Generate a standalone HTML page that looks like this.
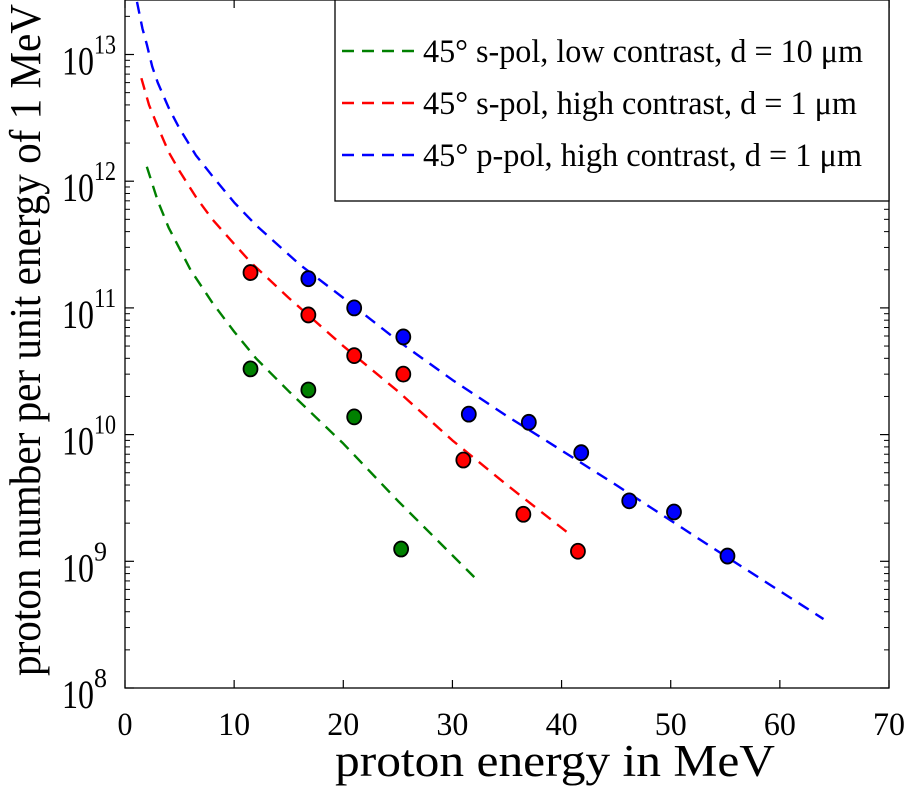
<!DOCTYPE html>
<html><head><meta charset="utf-8"><style>
body{margin:0;background:#fff;}
svg text{font-family:"Liberation Serif",serif;fill:#000;}
</style></head><body>
<svg id="chart" width="909" height="802" xmlns="http://www.w3.org/2000/svg"></svg>
<script>
const xTicks=[0,10,20,30,40,50,60,70];
const yDecades=[8,9,10,11,12,13];
const greenPtsX=[11.5,16.8,21,25.3];
const greenPtsY=[3.3e10,2.25e10,1.38e10,1.25e9];
const redPtsX=[11.5,16.8,21,25.5,31,36.5,41.5];
const redPtsY=[1.9e11,8.8e10,4.2e10,3e10,6.3e9,2.35e9,1.2e9];
const bluePtsX=[16.8,21,25.5,31.5,37,41.8,46.2,50.3,55.2];
const bluePtsY=[1.7e11,1e11,5.9e10,1.45e10,1.25e10,7.2e9,3e9,2.45e9,1.1e9];
const greenFitX=[2,3,4,6,8,10,12,15,20,25,32];
const greenFitY=[1.3e12,7e11,4.3e11,2e11,1.1e11,6.5e10,4e10,2.2e10,8.5e9,3e9,7.5e8];
const redFitX=[1.5,2.2,3,4,5,6.5,8,10,11.5,15,20,25,30,35,40.5];
const redFitY=[6.5e12,4e12,2.7e12,1.7e12,1.2e12,7.5e11,5e11,3.2e11,2.3e11,1.2e11,5e10,2.2e10,9e9,4e9,1.7e9];
const blueFitX=[1.1,1.6,2,2.5,3,4,5,6.5,8,10,12,16,20,25,30,35,40,45,50,55,64];
const blueFitY=[2.6e13,1.6e13,1.2e13,8e12,6e12,3.8e12,2.6e12,1.6e12,1.1e12,6.8e11,4.5e11,2.2e11,1.2e11,5.5e10,2.7e10,1.4e10,7.5e9,4e9,2.1e9,1.1e9,3.5e8];
const legendLabels=["45° s-pol, low contrast, d = 10 μm","45° s-pol, high contrast, d = 1 μm","45° p-pol, high contrast, d = 1 μm"];
const legendWidths=[440,434,439];

const L=125,R=889,T=0,B=688;
const X=v=>L+(v-0)/(70-0)*(R-L);
const Y=v=>B-(Math.log10(v)-8)*126.7;
const svg=document.getElementById('chart');
const NS='http://www.w3.org/2000/svg';
function mk(tag,attrs,parent){const e=document.createElementNS(NS,tag);for(const k in attrs)e.setAttribute(k,attrs[k]);(parent||svg).appendChild(e);return e;}

function curve(xs,ys,color,name){
  const p=mk('polyline',{points:xs.map((x,i)=>X(x)+','+Y(ys[i])).join(' '),fill:'none',stroke:color,'stroke-width':2.4,'stroke-dasharray':'12 8','stroke-linejoin':'round'});
  
  
}
curve(greenFitX,greenFitY,'#008000','green-fit-line');
curve(redFitX,redFitY,'#ff0000','red-fit-line');
curve(blueFitX,blueFitY,'#0000ff','blue-fit-line');
function pts(xs,ys,color,name){
  xs.forEach((x,i)=>{
    const c=mk('ellipse',{cx:X(x),cy:Y(ys[i]),rx:7,ry:7.5,fill:color,stroke:'#000','stroke-width':1.8});
    
    
  });
}
pts(greenPtsX,greenPtsY,'#008000','green-point');
pts(redPtsX,redPtsY,'#ff0000','red-point');
pts(bluePtsX,bluePtsY,'#0000ff','blue-point');

const fr=mk('rect',{x:L,y:T,width:R-L,height:B-T,fill:'none',stroke:'#000','stroke-width':1.3});


xTicks.forEach(t=>{
  mk('line',{x1:X(t),x2:X(t),y1:B,y2:B-8,stroke:'#000','stroke-width':1.2});
  mk('line',{x1:X(t),x2:X(t),y1:T,y2:T+8,stroke:'#000','stroke-width':1.2});
  const tx=mk('text',{x:X(t),y:735,'font-size':33,'text-anchor':'middle',textLength:t===0?15:32,lengthAdjust:'spacingAndGlyphs'});tx.textContent=t;
  
  
});
yDecades.forEach(d=>{
  const y=Y(Math.pow(10,d));
  mk('line',{x1:L,x2:L+9,y1:y,y2:y,stroke:'#000','stroke-width':1.2});
  mk('line',{x1:R,x2:R-9,y1:y,y2:y,stroke:'#000','stroke-width':1.2});
  for(let m=2;m<10;m++){const yy=Y(m*Math.pow(10,d));if(yy<T)continue;
    mk('line',{x1:L,x2:L+5,y1:yy,y2:yy,stroke:'#000','stroke-width':1});
    mk('line',{x1:R,x2:R-5,y1:yy,y2:yy,stroke:'#000','stroke-width':1});}
  const tx=mk('text',{x:62,y:y+20,'font-size':40,textLength:32,lengthAdjust:'spacingAndGlyphs'});
  tx.textContent='10';
  
  
  const sp=mk('text',{x:94,y:y-1,'font-size':27,textLength:d>=10?22:13,lengthAdjust:'spacingAndGlyphs'});
  sp.textContent=d;
  
  
});
const xt=mk('text',{x:335,y:776,'font-size':45,textLength:440,lengthAdjust:'spacingAndGlyphs'});xt.textContent='proton energy in MeV';


const yt=mk('text',{x:0,y:0,'font-size':44,textLength:672,lengthAdjust:'spacingAndGlyphs',transform:'translate(40,676) rotate(-90)'});yt.textContent='proton number per unit energy of 1 MeV';


const lg=mk('g',{});


mk('rect',{x:335,y:0,width:R-335,height:201,fill:'#fff',stroke:'#000','stroke-width':1.3},lg);
const cols=['#008000','#ff0000','#0000ff'];
legendLabels.forEach((s,i)=>{
  const y=51+i*52;
  const g=mk('g',{},lg);
  
  
  mk('line',{x1:342,x2:420,y1:y,y2:y,stroke:cols[i],'stroke-width':2.4,'stroke-dasharray':'12 8'},g);
  const t=mk('text',{x:423,y:y+11,'font-size':33,textLength:legendWidths[i],lengthAdjust:'spacingAndGlyphs'},g);t.textContent=s;
});
</script>
</body></html>
